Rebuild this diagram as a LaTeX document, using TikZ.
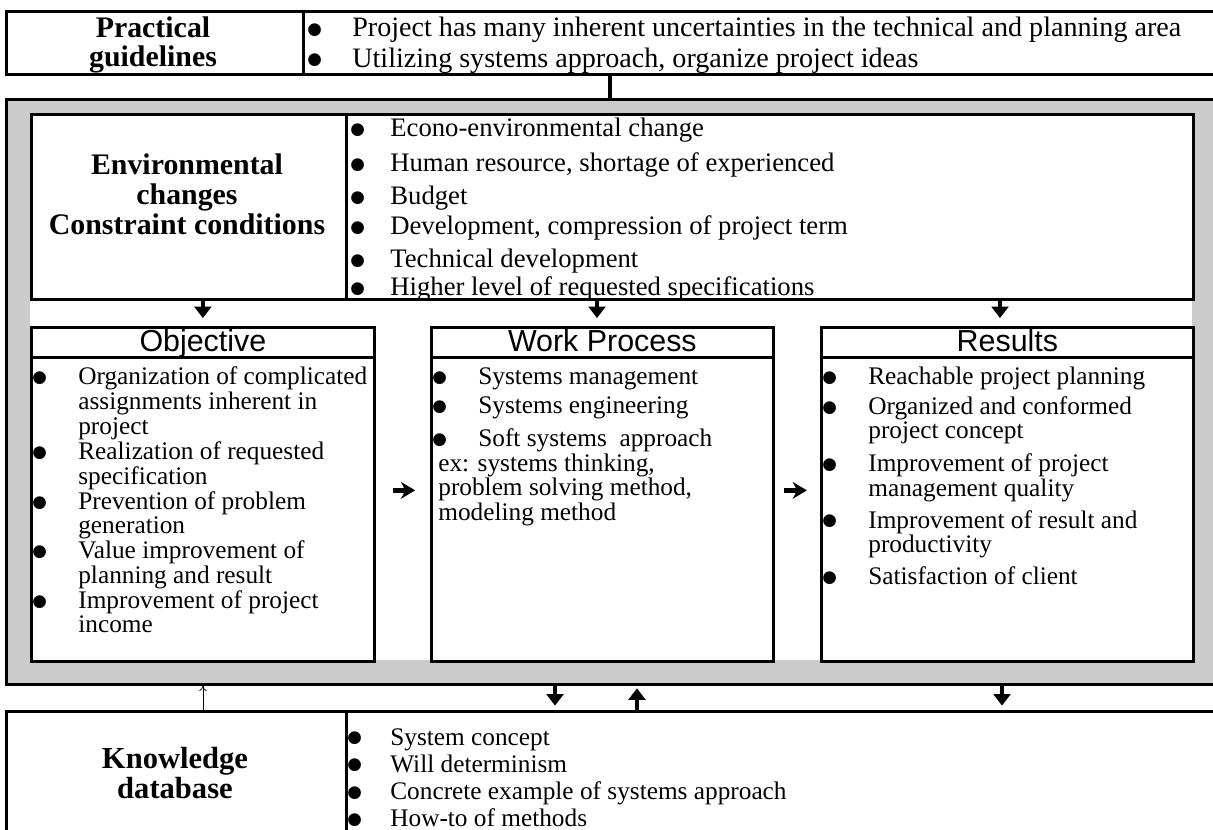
\documentclass[tikz,border=0pt]{standalone}
\usepackage{fontspec}
\setmainfont{Liberation Serif}
\setsansfont{Liberation Sans}
\newfontfamily\dejavu{DejaVu Sans}
\usepackage{array}
\usetikzlibrary{arrows.meta}

\newcommand{\bul}{\raisebox{1.2pt}{\dejavu\fontsize{9.5}{9.5}\selectfont ●}}

\begin{document}
\begin{tikzpicture}[x=0.02cm,y=-0.02cm,
	box/.style={draw, line width=1.6pt, anchor=north west, inner sep=0pt},
	txt/.style={anchor=base west, inner sep=0pt},
	ttl/.style={align=center, inner sep=0pt, font=\bfseries\fontsize{17}{17}\selectfont},
	hdr/.style={inner sep=0pt, text height=12pt, text depth=2pt, font=\sffamily\fontsize{17.3}{20}\selectfont},
	blk/.style={line width=2.7pt, -{Triangle[width=9.5pt,length=6.5pt]}},
	rblk/.style={line width=3pt, -{Stealth[width=9.5pt,length=8pt,inset=2.5pt]}},
	thinarr/.style={line width=0.4pt, -{To[length=3pt,width=4pt]}}]
	\useasboundingbox (0,0) rectangle (1213,830);

	\node[box, minimum width=5.94cm, minimum height=1.26cm] (toptitle) at (5,10) {};
	\node[box, minimum width=18.46cm, minimum height=1.26cm] (toplist) at (302,10) {};

	\node[box, fill=black!20, minimum width=24.3cm, minimum height=11.7cm] (frame) at (5,98) {};
	\node[anchor=north west, inner sep=0pt, fill=white, minimum width=23.24cm, minimum height=10.94cm] (inner) at (30,113) {};

	\node[box, minimum width=6.3cm, minimum height=3.7cm] (envtitle) at (30,113) {};
	\node[box, minimum width=16.94cm, minimum height=3.7cm] (envlist) at (345,113) {};

	\node[box, minimum width=6.86cm, minimum height=0.6cm] (objhead) at (30,326) {};
	\node[box, minimum width=6.86cm, minimum height=6.08cm] (objbody) at (30,356) {};
	\node[box, minimum width=6.84cm, minimum height=0.6cm] (wphead) at (430,326) {};
	\node[box, minimum width=6.84cm, minimum height=6.08cm] (wpbody) at (430,356) {};
	\node[box, minimum width=7.44cm, minimum height=0.6cm] (reshead) at (820,326) {};
	\node[box, minimum width=7.44cm, minimum height=6.08cm] (resbody) at (820,356) {};

	\node[box, minimum width=6.8cm, minimum height=2.8cm] (kbtitle) at (5,710) {};
	\node[box, minimum width=17.5cm, minimum height=2.8cm] (kblist) at (345,710) {};

	\node[ttl] (toptitletext) at (153,45) {Practical\\guidelines};
	\node[ttl] (envtitletext) at (187,194) {Environmental\\changes\\Constraint conditions};
	\node[ttl, font=\bfseries\fontsize{17.4}{15.9}\selectfont] (kbtitletext) at (175,773) {Knowledge\\database};

	\node[hdr] (objlabel) at (objhead) {Objective};
	\node[hdr] (wplabel) at (wphead) {Work Process};
	\node[hdr] (reslabel) at (reshead) {Results};

	\node[txt, font=\fontsize{16}{17.1}\selectfont] (toptext) at (307,37) {\begin{tabular}[t]{@{}p{0.9cm}@{}l@{}}
		\bul & Project has many inherent uncertainties in the technical and planning area\\
		\bul & Utilizing systems approach, organize project ideas
	\end{tabular}};

	\node[txt, font=\fontsize{15.2}{15.9}\selectfont] (envtext) at (350,137) {\begin{tabular}[t]{@{}p{0.8cm}@{}l@{}}
		\bul & Econo-environmental change\\[3.6pt]
		\bul & Human resource, shortage of experienced\\[2.9pt]
		\bul & Budget\\[1.4pt]
		\bul & Development, compression of project term\\[2.7pt]
		\bul & Technical development\\
		\bul & Higher level of requested specifications
	\end{tabular}};

	\node[txt, font=\fontsize{14.4}{13.8}\selectfont] (objtext) at (32,385) {\begin{tabular}[t]{@{}p{0.92cm}@{}l@{}}
		\bul & Organization of complicated\\
		& assignments inherent in\\
		& project\\
		\bul & Realization of requested\\
		& specification\\
		\bul & Prevention of problem\\
		& generation\\
		\bul & Value improvement of\\
		& planning and result\\
		\bul & Improvement of project\\
		& income
	\end{tabular}};

	\node[txt, font=\fontsize{14.4}{13.7}\selectfont] (wptext) at (432,385) {\begin{tabular}[t]{@{}p{0.92cm}@{}l@{}}
		\bul & Systems management\\[2.6pt]
		\bul & Systems engineering\\[4.3pt]
		\bul & Soft systems\ \ approach\\
		\multicolumn{2}{@{}l@{}}{\hspace{0.12cm}ex: systems thinking,}\\
		\multicolumn{2}{@{}l@{}}{\hspace{0.12cm}problem solving method,}\\
		\multicolumn{2}{@{}l@{}}{\hspace{0.12cm}modeling method}
	\end{tabular}};

	\node[txt, font=\fontsize{14.4}{13.7}\selectfont] (restext) at (822,385) {\begin{tabular}[t]{@{}p{0.92cm}@{}l@{}}
		\bul & Reachable project planning\\[2.6pt]
		\bul & Organized and conformed\\
		& project concept\\[4.3pt]
		\bul & Improvement of project\\
		& management quality\\[4pt]
		\bul & Improvement of result and\\
		& productivity\\[3.6pt]
		\bul & Satisfaction of client
	\end{tabular}};

	\node[txt, font=\fontsize{14.4}{15.4}\selectfont] (kbtext) at (347,745) {\begin{tabular}[t]{@{}p{0.86cm}@{}l@{}}
		\bul & System concept\\
		\bul & Will determinism\\
		\bul & Concrete example of systems approach\\
		\bul & How-to of methods
	\end{tabular}};

	\draw[line width=2.6pt] (610,0 |- toplist.south) -- (610,0 |- frame.north);

	\draw[blk, shorten >=4.5pt] (objhead.north |- envtitle.south) -- (objhead.north);
	\draw[blk, shorten >=4.5pt] (597,0 |- envlist.south) -- (597,0 |- wphead.north);
	\draw[blk, shorten >=4.5pt] (1000,0 |- envlist.south) -- (1000,0 |- reshead.north);

	\draw[rblk, shorten <=10pt, shorten >=8.5pt] ([yshift=0.38cm]objbody.east) -- ([yshift=0.38cm]wpbody.west);
	\draw[rblk, shorten <=5.5pt, shorten >=7.5pt] ([yshift=0.38cm]wpbody.east) -- ([yshift=0.38cm]resbody.west);

	\draw[thinarr] (objbody.south |- kbtitle.north) -- (objbody.south |- frame.south);
	\draw[blk, shorten >=2.5pt] (555,0 |- frame.south) -- (555,0 |- kblist.north);
	\draw[blk, shorten >=1.5pt] (637,0 |- kblist.north) -- (637,0 |- frame.south);
	\draw[blk, shorten >=2.5pt] (1002,0 |- frame.south) -- (1002,0 |- kblist.north);
\end{tikzpicture}
\end{document}
